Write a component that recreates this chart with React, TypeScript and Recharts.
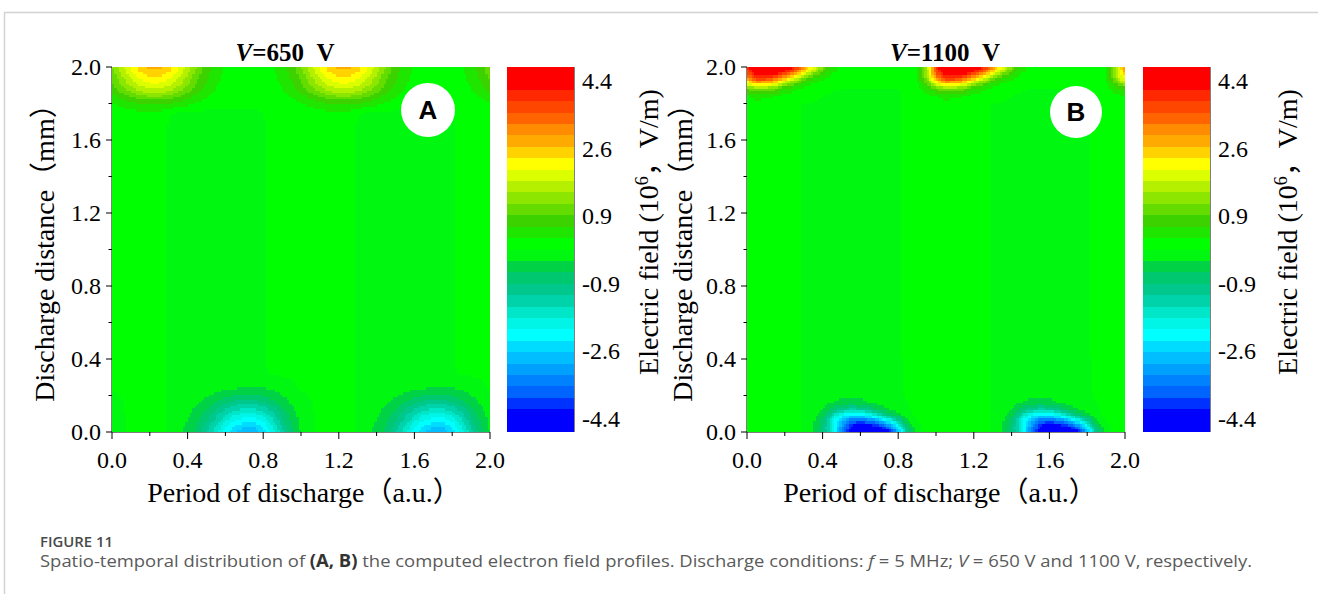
import React from 'react';
import { ScatterChart, Scatter, XAxis, YAxis } from 'recharts';

// ---------- data ----------
// period of discharge (a.u.) grid nodes
const periodNodes = [
  0, 0.05, 0.1, 0.15, 0.2, 0.25, 0.3, 0.35, 0.4, 0.45, 0.5, 0.55, 0.6, 0.65, 0.7, 0.75, 0.8, 0.85, 0.9, 0.95,
  1.0, 1.05, 1.1, 1.15, 1.2, 1.25, 1.3, 1.35, 1.4, 1.45, 1.5, 1.55, 1.6, 1.65, 1.7, 1.75, 1.8, 1.85, 1.9, 1.95, 2.0,
];

// discharge distance (mm) grid nodes, V = 650 V
const distanceNodesA = [0, 0.04, 0.08, 0.13, 0.19, 0.26, 0.35, 0.6, 1.0, 1.4, 1.65, 1.74, 1.81, 1.87, 1.92, 1.96, 2.0];

// bulk plasma row (10^6 V/m), V = 650 V
const bulkRowA = [0.1, 0.1, 0.1, 0.1, 0.1, 0.1, -0.05, -0.1, -0.1, -0.1, -0.1, -0.1, -0.1, -0.1, -0.1, -0.1, -0.05, 0.1, 0.1, 0.1, 0.1,
  0.1, 0.1, 0.1, 0.1, 0.1, -0.05, -0.1, -0.1, -0.1, -0.1, -0.1, -0.1, -0.1, -0.1, -0.1, -0.05, 0.1, 0.1, 0.1, 0.1];

// electric field (10^6 V/m), rows follow distanceNodesA, columns follow periodNodes
const fieldA = [
  [-0.25, -0.1, 0.1, 0.1, 0.1, 0.1, -0.05, -0.2, -0.4, -0.7, -1.15, -1.7, -2.25, -2.7, -2.95, -2.95, -2.6, -2.0, -1.3, -0.7, -0.25,
    -0.1, 0.1, 0.1, 0.1, 0.1, -0.05, -0.2, -0.4, -0.7, -1.15, -1.7, -2.25, -2.7, -2.95, -2.95, -2.6, -2.0, -1.3, -0.7, -0.25],
  [-0.21, -0.09, 0.1, 0.1, 0.1, 0.1, -0.05, -0.17, -0.34, -0.6, -0.98, -1.45, -1.91, -2.3, -2.51, -2.51, -2.21, -1.7, -1.1, -0.6, -0.21,
    -0.09, 0.1, 0.1, 0.1, 0.1, -0.05, -0.17, -0.34, -0.6, -0.98, -1.45, -1.91, -2.3, -2.51, -2.51, -2.21, -1.7, -1.1, -0.6, -0.21],
  [-0.18, -0.07, 0.1, 0.1, 0.1, 0.1, -0.05, -0.14, -0.28, -0.49, -0.8, -1.19, -1.58, -1.89, -2.07, -2.07, -1.82, -1.4, -0.91, -0.49, -0.18,
    -0.07, 0.1, 0.1, 0.1, 0.1, -0.05, -0.14, -0.28, -0.49, -0.8, -1.19, -1.58, -1.89, -2.07, -2.07, -1.82, -1.4, -0.91, -0.49, -0.18],
  [-0.12, -0.05, 0.1, 0.1, 0.1, 0.1, -0.05, -0.1, -0.2, -0.35, -0.58, -0.85, -1.13, -1.35, -1.48, -1.48, -1.3, -1.0, -0.65, -0.35, -0.12,
    -0.05, 0.1, 0.1, 0.1, 0.1, -0.05, -0.1, -0.2, -0.35, -0.58, -0.85, -1.13, -1.35, -1.48, -1.48, -1.3, -1.0, -0.65, -0.35, -0.12],
  [-0.06, 0.0, 0.1, 0.1, 0.1, 0.1, -0.05, -0.1, -0.1, -0.18, -0.29, -0.43, -0.56, -0.68, -0.74, -0.74, -0.65, -0.5, -0.33, -0.18, -0.06,
    0.0, 0.1, 0.1, 0.1, 0.1, -0.05, -0.1, -0.1, -0.18, -0.29, -0.43, -0.56, -0.68, -0.74, -0.74, -0.65, -0.5, -0.33, -0.18, -0.06],
  [0.05, 0.1, 0.1, 0.1, 0.1, 0.1, -0.05, -0.1, -0.1, -0.1, -0.1, -0.1, -0.1, -0.1, -0.18, -0.18, -0.16, -0.12, -0.1, -0.05, 0.05,
    0.1, 0.1, 0.1, 0.1, 0.1, -0.05, -0.1, -0.1, -0.1, -0.1, -0.1, -0.1, -0.1, -0.18, -0.18, -0.16, -0.12, -0.1, -0.05, 0.05],
  bulkRowA,
  bulkRowA,
  bulkRowA,
  bulkRowA,
  bulkRowA,
  [0.1, 0.1, 0.13, 0.15, 0.17, 0.12, 0.02, -0.1, -0.1, -0.1, -0.1, -0.1, -0.1, -0.1, -0.1, -0.1, 0.0, 0.1, 0.1, 0.1, 0.1,
    0.1, 0.13, 0.15, 0.17, 0.12, 0.02, -0.1, -0.1, -0.1, -0.1, -0.1, -0.1, -0.1, -0.1, -0.1, 0.0, 0.1, 0.1, 0.1, 0.1],
  [0.32, 0.46, 0.6, 0.71, 0.77, 0.77, 0.71, 0.6, 0.46, 0.32, 0.21, 0.13, 0.1, 0.1, 0.1, 0.1, 0.1, 0.1, 0.13, 0.21, 0.32,
    0.46, 0.6, 0.71, 0.77, 0.77, 0.71, 0.6, 0.46, 0.32, 0.21, 0.13, 0.1, 0.1, 0.1, 0.1, 0.1, 0.1, 0.13, 0.21, 0.32],
  [0.69, 0.99, 1.29, 1.53, 1.65, 1.65, 1.53, 1.29, 0.99, 0.69, 0.45, 0.27, 0.15, 0.1, 0.1, 0.1, 0.1, 0.15, 0.27, 0.45, 0.69,
    0.99, 1.29, 1.53, 1.65, 1.65, 1.53, 1.29, 0.99, 0.69, 0.45, 0.27, 0.15, 0.1, 0.1, 0.1, 0.1, 0.15, 0.27, 0.45, 0.69],
  [0.9, 1.29, 1.68, 1.99, 2.15, 2.15, 1.99, 1.68, 1.29, 0.9, 0.59, 0.35, 0.2, 0.1, 0.1, 0.1, 0.1, 0.2, 0.35, 0.59, 0.9,
    1.29, 1.68, 1.99, 2.15, 2.15, 1.99, 1.68, 1.29, 0.9, 0.59, 0.35, 0.2, 0.1, 0.1, 0.1, 0.1, 0.2, 0.35, 0.59, 0.9],
  [1.04, 1.49, 1.94, 2.3, 2.48, 2.48, 2.3, 1.94, 1.49, 1.04, 0.68, 0.41, 0.23, 0.11, 0.1, 0.1, 0.11, 0.23, 0.41, 0.68, 1.04,
    1.49, 1.94, 2.3, 2.48, 2.48, 2.3, 1.94, 1.49, 1.04, 0.68, 0.41, 0.23, 0.11, 0.1, 0.1, 0.11, 0.23, 0.41, 0.68, 1.04],
  [1.15, 1.65, 2.15, 2.55, 2.75, 2.75, 2.55, 2.15, 1.65, 1.15, 0.75, 0.45, 0.25, 0.12, 0.1, 0.1, 0.12, 0.25, 0.45, 0.75, 1.15,
    1.65, 2.15, 2.55, 2.75, 2.75, 2.55, 2.15, 1.65, 1.15, 0.75, 0.45, 0.25, 0.12, 0.1, 0.1, 0.12, 0.25, 0.45, 0.75, 1.15],
];

// discharge distance (mm) grid nodes, V = 1100 V
const distanceNodesB = [0, 0.03, 0.06, 0.09, 0.12, 0.16, 0.22, 0.5, 1.0, 1.5, 1.78, 1.84, 1.88, 1.91, 1.94, 1.97, 2.0];

// bulk plasma row (10^6 V/m), V = 1100 V
const bulkRowB = [0.1, 0.1, 0.1, 0.1, 0.1, 0.1, -0.05, -0.1, -0.1, -0.1, -0.1, -0.1, -0.1, -0.1, -0.1, -0.1, -0.05, 0.1, 0.1, 0.1, 0.1,
  0.1, 0.1, 0.1, 0.1, 0.1, -0.05, -0.1, -0.1, -0.1, -0.1, -0.1, -0.1, -0.1, -0.1, -0.1, -0.05, 0.1, 0.1, 0.1, 0.1];

// electric field (10^6 V/m), rows follow distanceNodesB, columns follow periodNodes
const fieldB = [
  [0.1, 0.1, 0.1, 0.1, 0.1, 0.1, -0.05, -0.3, -0.8, -1.8, -3.2, -4.4, -5.0, -5.0, -4.8, -4.3, -3.0, -1.0, -0.2, 0.1, 0.1,
    0.1, 0.1, 0.1, 0.1, 0.1, -0.05, -0.3, -0.8, -1.8, -3.2, -4.4, -5.0, -5.0, -4.8, -4.3, -3.0, -1.0, -0.2, 0.1, 0.1],
  [0.1, 0.1, 0.1, 0.1, 0.1, 0.1, -0.05, -0.3, -0.8, -1.9, -3.2, -4.2, -4.6, -4.5, -4.2, -3.5, -2.2, -0.6, -0.1, 0.1, 0.1,
    0.1, 0.1, 0.1, 0.1, 0.1, -0.05, -0.3, -0.8, -1.9, -3.2, -4.2, -4.6, -4.5, -4.2, -3.5, -2.2, -0.6, -0.1, 0.1, 0.1],
  [0.1, 0.1, 0.1, 0.1, 0.1, 0.1, -0.05, -0.25, -0.7, -1.8, -2.9, -3.6, -3.8, -3.5, -3.0, -2.2, -1.2, -0.3, 0.0, 0.1, 0.1,
    0.1, 0.1, 0.1, 0.1, 0.1, -0.05, -0.25, -0.7, -1.8, -2.9, -3.6, -3.8, -3.5, -3.0, -2.2, -1.2, -0.3, 0.0, 0.1, 0.1],
  [0.1, 0.1, 0.1, 0.1, 0.1, 0.1, -0.05, -0.2, -0.5, -1.4, -2.2, -2.6, -2.6, -2.2, -1.6, -1.0, -0.5, -0.1, 0.05, 0.1, 0.1,
    0.1, 0.1, 0.1, 0.1, 0.1, -0.05, -0.2, -0.5, -1.4, -2.2, -2.6, -2.6, -2.2, -1.6, -1.0, -0.5, -0.1, 0.05, 0.1, 0.1],
  [0.1, 0.1, 0.1, 0.1, 0.1, 0.1, -0.05, -0.15, -0.3, -0.8, -1.2, -1.4, -1.3, -1.0, -0.6, -0.3, -0.15, -0.05, 0.1, 0.1, 0.1,
    0.1, 0.1, 0.1, 0.1, 0.1, -0.05, -0.15, -0.3, -0.8, -1.2, -1.4, -1.3, -1.0, -0.6, -0.3, -0.15, -0.05, 0.1, 0.1, 0.1],
  [0.1, 0.1, 0.1, 0.1, 0.1, 0.1, -0.05, -0.1, -0.15, -0.3, -0.4, -0.45, -0.4, -0.3, -0.2, -0.1, -0.1, 0.0, 0.1, 0.1, 0.1,
    0.1, 0.1, 0.1, 0.1, 0.1, -0.05, -0.1, -0.15, -0.3, -0.4, -0.45, -0.4, -0.3, -0.2, -0.1, -0.1, 0.0, 0.1, 0.1, 0.1],
  [0.1, 0.1, 0.1, 0.1, 0.1, 0.1, -0.05, -0.1, -0.1, -0.1, -0.1, -0.1, -0.1, -0.1, -0.1, -0.1, -0.05, 0.05, 0.1, 0.1, 0.1,
    0.1, 0.1, 0.1, 0.1, 0.1, -0.05, -0.1, -0.1, -0.1, -0.1, -0.1, -0.1, -0.1, -0.1, -0.1, -0.05, 0.05, 0.1, 0.1, 0.1],
  bulkRowB,
  bulkRowB,
  bulkRowB,
  bulkRowB,
  [0.3, 0.4, 0.35, 0.3, 0.2, 0.15, 0.1, 0.1, 0.0, -0.05, -0.1, -0.1, -0.1, -0.1, -0.1, -0.1, -0.05, 0.1, 0.1, 0.2, 0.3,
    0.4, 0.35, 0.3, 0.2, 0.15, 0.1, 0.1, 0.0, -0.05, -0.1, -0.1, -0.1, -0.1, -0.1, -0.1, -0.05, 0.1, 0.1, 0.2, 0.25],
  [0.9, 1.3, 1.2, 1.0, 0.6, 0.35, 0.2, 0.1, 0.1, 0.05, 0.0, 0.0, 0.0, 0.0, 0.0, 0.0, 0.0, 0.1, 0.15, 0.5, 0.9,
    1.3, 1.2, 1.0, 0.6, 0.35, 0.2, 0.1, 0.1, 0.05, 0.0, 0.0, 0.0, 0.0, 0.0, 0.0, 0.0, 0.1, 0.15, 0.5, 0.7],
  [2.0, 2.7, 2.6, 2.2, 1.5, 1.0, 0.5, 0.3, 0.15, 0.1, 0.05, 0.05, 0.05, 0.05, 0.05, 0.05, 0.05, 0.1, 0.2, 0.9, 2.0,
    2.7, 2.6, 2.2, 1.5, 1.0, 0.5, 0.3, 0.15, 0.1, 0.05, 0.05, 0.05, 0.05, 0.05, 0.05, 0.05, 0.1, 0.2, 0.9, 1.6],
  [3.0, 3.9, 3.9, 3.5, 2.8, 2.1, 1.2, 0.7, 0.4, 0.2, 0.1, 0.1, 0.1, 0.1, 0.1, 0.1, 0.1, 0.1, 0.25, 1.3, 3.0,
    3.9, 3.9, 3.5, 2.8, 2.1, 1.2, 0.7, 0.4, 0.2, 0.1, 0.1, 0.1, 0.1, 0.1, 0.1, 0.1, 0.1, 0.25, 1.3, 2.4],
  [3.6, 4.7, 4.8, 4.5, 4.0, 3.3, 2.3, 1.4, 0.8, 0.35, 0.15, 0.1, 0.1, 0.1, 0.1, 0.1, 0.1, 0.1, 0.3, 1.5, 3.6,
    4.7, 4.8, 4.5, 4.0, 3.3, 2.3, 1.4, 0.8, 0.35, 0.15, 0.1, 0.1, 0.1, 0.1, 0.1, 0.1, 0.1, 0.3, 1.5, 2.8],
  [3.8, 5.0, 5.2, 5.0, 4.7, 4.2, 3.2, 2.2, 1.2, 0.5, 0.2, 0.1, 0.1, 0.1, 0.1, 0.1, 0.1, 0.1, 0.3, 1.5, 3.8,
    5.0, 5.2, 5.0, 4.7, 4.2, 3.2, 2.2, 1.2, 0.5, 0.2, 0.1, 0.1, 0.1, 0.1, 0.1, 0.1, 0.1, 0.3, 1.5, 3.0],
];

// axis ticks: every 0.2, labelled every 0.4
const axisTicks = [0, 0.2, 0.4, 0.6, 0.8, 1.0, 1.2, 1.4, 1.6, 1.8, 2.0];
// colour-bar scale
const colorbarTicks = [4.4, 2.64, 0.88, -0.88, -2.64, -4.4];
const levelRange = [-4.75, 4.75];

// contour fill colours, lowest level first
const bandColors = [
  '#0000ff', '#0000ff', '#0032ff', '#0064ff', '#0082ff', '#00a0ff', '#00beff', '#00dcff',
  '#00ffff', '#00f5e6', '#00e6c8', '#00d2aa', '#00c88c', '#00c86e', '#00d246', '#00f70f',
  '#00ff00', '#1ee600', '#3cd200', '#64dc00', '#8ce600', '#b4f000', '#dcff00', '#ffff00',
  '#ffd200', '#ffaa00', '#ff8c00', '#ff6400', '#ff4600', '#ff2800', '#ff0000', '#ff0000',
];

// ---------- layout ----------
const SERIF = "'Liberation Serif', 'Times New Roman', 'Noto Sans CJK SC', serif";
const SANS = "'Liberation Sans', Arial, sans-serif";
const PANEL_W = 530;
const PANEL_H = 520;
const MARGIN = { top: 67, right: 40, bottom: 0, left: 40 };
const Y_AXIS_W = 72;
const X_AXIS_H = 88;
const PLOT_W = PANEL_W - MARGIN.left - MARGIN.right - Y_AXIS_W;
const PLOT_H = PANEL_H - MARGIN.top - MARGIN.bottom - X_AXIS_H;
const X_SPAN = 2;
const Y_SPAN = 2;
const SUB = 2.4; // sub-sample size in px when filling a grid cell

const CB_W = 200;
const CB_MARGIN = { top: MARGIN.top, right: 0, bottom: X_AXIS_H, left: 40 };
const CB_AXIS_W = 93;
const CB_PLOT_W = CB_W - CB_MARGIN.left - CB_MARGIN.right - CB_AXIS_W;

const TICK_FONT = 24;
const LABEL_FONT = 28;
const MAJOR_Y = 6, MINOR_Y = 3.5, GAP_Y = 5;
const MAJOR_X = 7, MINOR_X = 4, GAP_X = 12;

const levelStep = (levelRange[1] - levelRange[0]) / bandColors.length;
const colorFor = (v: number) => {
  let k = Math.floor((v - levelRange[0]) / levelStep);
  if (k < 0) k = 0;
  if (k >= bandColors.length) k = bandColors.length - 1;
  return bandColors[k];
};

type GridCell = { x: number; y: number; c: number; r: number };
const buildCells = (xs: number[], ys: number[]): GridCell[] => {
  const out: GridCell[] = [];
  for (let r = 0; r < ys.length - 1; r++) {
    for (let c = 0; c < xs.length - 1; c++) out.push({ x: xs[c], y: ys[r], c, r });
  }
  return out;
};

// fills one grid cell (anchored at its lower-left node) with banded contour colours
const makeCellShape = (xs: number[], ys: number[], field: number[][]) => (props: any) => {
  const { cx, cy, payload } = props;
  const { c, r } = payload as GridCell;
  const w = ((xs[c + 1] - xs[c]) * PLOT_W) / X_SPAN;
  const h = ((ys[r + 1] - ys[r]) * PLOT_H) / Y_SPAN;
  const v00 = field[r][c], v10 = field[r][c + 1], v01 = field[r + 1][c], v11 = field[r + 1][c + 1];
  const nx = Math.max(1, Math.round(w / SUB));
  const ny = Math.max(1, Math.round(h / SUB));
  const sw = w / nx, sh = h / ny;
  const rects: React.ReactNode[] = [];
  for (let i = 0; i < nx; i++) {
    const u = (i + 0.5) / nx;
    let start = 0;
    let current: string | null = null;
    const flush = (end: number) => {
      if (current === null) return;
      rects.push(
        <rect key={`${i}-${start}`} x={cx + i * sw} y={cy - end * sh} width={sw} height={(end - start) * sh} fill={current} />
      );
    };
    for (let j = 0; j < ny; j++) {
      const v = (j + 0.5) / ny;
      const val = v00 * (1 - u) * (1 - v) + v10 * u * (1 - v) + v01 * (1 - u) * v + v11 * u * v;
      const col = colorFor(val);
      if (col !== current) {
        flush(j);
        current = col;
        start = j;
      }
    }
    flush(ny);
  }
  return <g shapeRendering="crispEdges">{rects}</g>;
};

// one colour-bar level, anchored at its lower bound
const bandShape = (props: any) => {
  const { cx, cy, payload } = props;
  const h = (levelStep * PLOT_H) / (levelRange[1] - levelRange[0]);
  return <rect x={cx} y={cy - h} width={CB_PLOT_W} height={h} fill={payload.color} shapeRendering="crispEdges" />;
};

const bandData = bandColors.map((color, k) => ({ x: 0, y: levelRange[0] + k * levelStep, color }));

const YTick = (props: any) => {
  const { x, y, payload, index } = props;
  const major = index % 2 === 0;
  const axisX = x + GAP_Y + MAJOR_Y;
  return (
    <g>
      <line x1={axisX - (major ? MAJOR_Y : MINOR_Y)} x2={axisX} y1={y} y2={y} stroke="#000" strokeWidth={1} />
      {major && (
        <text x={x} y={y} dy="0.35em" textAnchor="end" fontFamily={SERIF} fontSize={TICK_FONT} fill="#000">
          {Number(payload.value).toFixed(1)}
        </text>
      )}
    </g>
  );
};

const XTick = (props: any) => {
  const { x, y, payload, index } = props;
  const major = index % 2 === 0;
  const axisY = y - GAP_X - MAJOR_X;
  return (
    <g>
      <line x1={x} x2={x} y1={axisY} y2={axisY + (major ? MAJOR_X : MINOR_X)} stroke="#000" strokeWidth={1} />
      {major && (
        <text x={x} y={y} dy="0.71em" textAnchor="middle" fontFamily={SERIF} fontSize={TICK_FONT} fill="#000">
          {Number(payload.value).toFixed(1)}
        </text>
      )}
    </g>
  );
};

// plain frame edges (top and right) drawn as tick-less axes
const frameAxes = (xDomain: number[], yDomain: number[]) => [
  <XAxis key="top" xAxisId="top" orientation="top" type="number" domain={xDomain} height={0} tick={false} tickLine={false} axisLine={{ stroke: '#000' }} />,
  <YAxis key="right" yAxisId="right" orientation="right" type="number" domain={yDomain} width={0} tick={false} tickLine={false} axisLine={{ stroke: '#000' }} />,
];

const FieldPanel = ({ xs, ys, field }: { xs: number[]; ys: number[]; field: number[][] }) => {
  const cells = buildCells(xs, ys);
  return (
    <ScatterChart width={PANEL_W} height={PANEL_H} margin={MARGIN}>
      <Scatter data={cells} isAnimationActive={false} shape={makeCellShape(xs, ys, field)} />
      <XAxis
        type="number"
        dataKey="x"
        domain={[0, 2]}
        ticks={axisTicks}
        interval={0}
        height={X_AXIS_H}
        tickSize={MAJOR_X}
        tickMargin={GAP_X}
        tickLine={false}
        tick={<XTick />}
        axisLine={{ stroke: '#000' }}
      />
      <YAxis
        type="number"
        dataKey="y"
        domain={[0, 2]}
        ticks={axisTicks}
        interval={0}
        width={Y_AXIS_W}
        tickSize={MAJOR_Y}
        tickMargin={GAP_Y}
        tickLine={false}
        tick={<YTick />}
        axisLine={{ stroke: '#000' }}
      />
      {frameAxes([0, 2], [0, 2])}
    </ScatterChart>
  );
};

const ColorBar = () => (
  <ScatterChart width={CB_W} height={PANEL_H} margin={CB_MARGIN}>
    <Scatter data={bandData} isAnimationActive={false} shape={bandShape} />
    <XAxis type="number" dataKey="x" domain={[0, 1]} height={0} tick={false} tickLine={false} axisLine={{ stroke: '#000' }} />
    <YAxis
      type="number"
      dataKey="y"
      orientation="right"
      domain={levelRange}
      ticks={colorbarTicks}
      interval={0}
      width={CB_AXIS_W}
      tickSize={0}
      tickMargin={8}
      tickLine={false}
      axisLine={{ stroke: '#000' }}
      tickFormatter={(v: number) => v.toFixed(1)}
      tick={{ fontFamily: SERIF, fontSize: TICK_FONT, fill: '#000' }}
    />
    <XAxis key="top" xAxisId="top" orientation="top" type="number" domain={[0, 1]} height={0} tick={false} tickLine={false} axisLine={{ stroke: '#000' }} />
    <YAxis key="left" yAxisId="left" orientation="left" type="number" domain={levelRange} width={0} tick={false} tickLine={false} axisLine={{ stroke: '#000' }} />
  </ScatterChart>
);

const ColorbarTitle = ({ x, y }: { x: number; y: number }) => (
  <text transform={`translate(${x},${y}) rotate(-90)`} textAnchor="middle" dy="0.35em" fontFamily={SERIF} fontSize={LABEL_FONT} fill="#000">
    Electric field (10
    <tspan dy={-10} fontSize={18}>6</tspan>
    <tspan dy={10}>，V/m)</tspan>
  </text>
);

const Badge = ({ x, y, r, letter }: { x: number; y: number; r: number; letter: string }) => (
  <g>
    <circle cx={x} cy={y} r={r} fill="#fff" />
    <text x={x} y={y} dy="0.36em" textAnchor="middle" fontFamily={SANS} fontWeight="bold" fontSize={26} fill="#000">
      {letter}
    </text>
  </g>
);

export default function App() {
  return (
    <div style={{ position: 'absolute', left: 0, top: 0, width: 1318, height: 594, background: '#fff', overflow: 'hidden' }}>
      <div style={{ position: 'absolute', left: 0, top: 0 }}>
        <FieldPanel xs={periodNodes} ys={distanceNodesA} field={fieldA} />
      </div>
      <div style={{ position: 'absolute', left: 467, top: 0 }}>
        <ColorBar />
      </div>
      <div style={{ position: 'absolute', left: 635, top: 0 }}>
        <FieldPanel xs={periodNodes} ys={distanceNodesB} field={fieldB} />
      </div>
      <div style={{ position: 'absolute', left: 1103, top: 0 }}>
        <ColorBar />
      </div>
      <svg width={1318} height={594} style={{ position: 'absolute', left: 0, top: 0, pointerEvents: 'none' }}>
        <line x1={4} y1={12.5} x2={1318} y2={12.5} stroke="#d2d2d2" strokeWidth={1.5} />
        <line x1={4.5} y1={12} x2={4.5} y2={594} stroke="#d2d2d2" strokeWidth={1.5} />

        <text x={285} y={61} textAnchor="middle" fontFamily={SERIF} fontWeight="bold" fontSize={25} fill="#000">
          <tspan fontStyle="italic">V</tspan>=650{'\u00a0\u00a0'}V
        </text>
        <text x={945} y={61} textAnchor="middle" fontFamily={SERIF} fontWeight="bold" fontSize={25} fill="#000">
          <tspan fontStyle="italic">V</tspan>=1100{'\u00a0\u00a0'}V
        </text>

        <text transform="translate(44,246) rotate(-90)" textAnchor="middle" dy="0.35em" fontFamily={SERIF} fontSize={LABEL_FONT} fill="#000">
          Discharge distance（mm）
        </text>
        <text transform="translate(682,246) rotate(-90)" textAnchor="middle" dy="0.35em" fontFamily={SERIF} fontSize={LABEL_FONT} fill="#000">
          Discharge distance（mm）
        </text>
        <text x={304} y={502} textAnchor="middle" fontFamily={SERIF} fontSize={LABEL_FONT} fill="#000">
          Period of discharge（a.u.）
        </text>
        <text x={940} y={502} textAnchor="middle" fontFamily={SERIF} fontSize={LABEL_FONT} fill="#000">
          Period of discharge（a.u.）
        </text>

        <ColorbarTitle x={648} y={232} />
        <ColorbarTitle x={1287} y={232} />

        <Badge x={428} y={110} r={27} letter="A" />
        <Badge x={1076} y={112} r={26} letter="B" />

        <text x={40} y={547} fontFamily="'Open Sans', sans-serif" fontWeight="600" fontSize={14} fill="#4a4a4a" textLength={73} lengthAdjust="spacingAndGlyphs">
          FIGURE 11
        </text>
        <text x={40} y={567} fontFamily="'Open Sans', sans-serif" fontSize={17} fill="#5a5a5a" textLength={1212} lengthAdjust="spacingAndGlyphs">
          Spatio-temporal distribution of <tspan fontWeight="bold" fill="#333">(A, B)</tspan> the computed electron field profiles. Discharge conditions:{' '}
          <tspan fontStyle="italic">f</tspan> = 5 MHz; <tspan fontStyle="italic">V</tspan> = 650 V and 1100 V, respectively.
        </text>
      </svg>
    </div>
  );
}
